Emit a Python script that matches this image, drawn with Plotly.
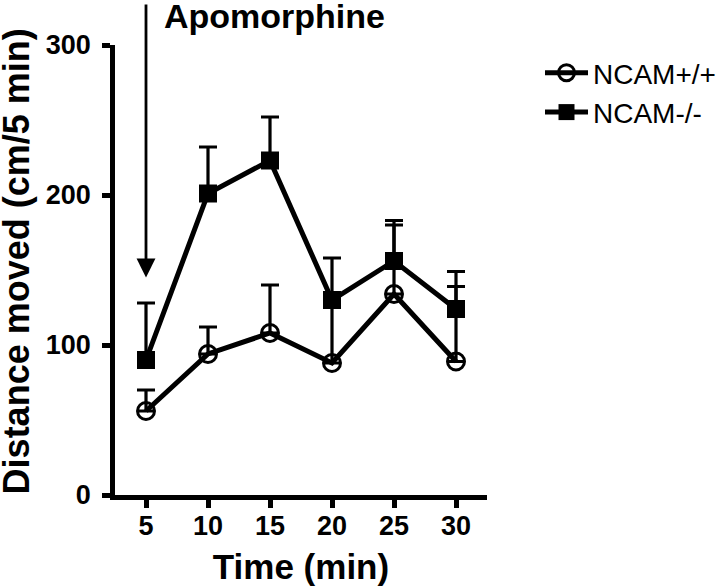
import plotly.graph_objects as go

# Data
time_min = [5, 10, 15, 20, 25, 30]
wt_mean = [56, 94, 108, 88, 134, 89]      # NCAM+/+
wt_err = [14, 18, 32, 40, 46, 50]
ko_mean = [90, 201, 223, 130, 156, 124]   # NCAM-/-
ko_err = [38, 31, 29, 28, 27, 25]
x_ticks = [5, 10, 15, 20, 25, 30]
y_ticks = [0, 100, 200, 300]
series_names = ["NCAM+/+", "NCAM-/-"]
arrow_label = "Apomorphine"
arrow_time = 5
arrow_tip = 145
arrow_start = 328

FONT = "Arial, Liberation Sans, sans-serif"
PLOT_L, PLOT_R, PLOT_T, PLOT_B = 114.5, 487.0, 45.0, 495.5


def px_to_paper_x(px):
    return (px - PLOT_L) / (PLOT_R - PLOT_L)


def px_to_paper_y(py):
    return (PLOT_B - py) / (PLOT_B - PLOT_T)


fig = go.Figure()
fig.add_trace(go.Scatter(
    x=time_min, y=wt_mean, name=series_names[0], mode="lines+markers",
    line=dict(color="black", width=5),
    marker=dict(symbol="circle-open", size=17, color="black", line=dict(width=3, color="black")),
    error_y=dict(type="data", array=wt_err, arrayminus=[0] * len(wt_err), symmetric=False,
                 color="black", thickness=3.2, width=9),
))
fig.add_trace(go.Scatter(
    x=time_min, y=ko_mean, name=series_names[1], mode="lines+markers",
    line=dict(color="black", width=5),
    marker=dict(symbol="square", size=18, color="black"),
    error_y=dict(type="data", array=ko_err, arrayminus=[0] * len(ko_err), symmetric=False,
                 color="black", thickness=3.2, width=9),
))

fig.add_annotation(
    x=arrow_time, y=arrow_tip, ax=arrow_time, ay=arrow_start, xref="x", yref="y",
    axref="x", ayref="y", showarrow=True, arrowhead=2, arrowsize=1.35, arrowwidth=2.8,
    arrowcolor="black", text="",
)
fig.add_annotation(
    text="<b>" + arrow_label + "</b>", xref="paper", yref="paper",
    x=px_to_paper_x(162), y=px_to_paper_y(16), xanchor="left", yanchor="middle",
    showarrow=False, font=dict(family=FONT, size=34, color="black"),
)
fig.add_annotation(
    text="<b>Distance moved (cm/5 min)</b>", xref="paper", yref="paper",
    x=px_to_paper_x(16), y=px_to_paper_y(262), xanchor="center", yanchor="middle",
    textangle=-90, showarrow=False, font=dict(family=FONT, size=36, color="black"),
)

fig.update_layout(
    width=720, height=587,
    margin=dict(l=PLOT_L, r=720 - PLOT_R, t=PLOT_T, b=587 - PLOT_B),
    plot_bgcolor="white", paper_bgcolor="white",
    font=dict(family=FONT, color="black"),
    legend=dict(
        x=540 / 720, y=1 - 48 / 587, xref="container", yref="container",
        xanchor="left", yanchor="top", font=dict(family=FONT, size=28, color="black"),
        itemwidth=43, bgcolor="rgba(0,0,0,0)", tracegroupgap=0,
    ),
    xaxis=dict(
        range=[2.5, 32.5], tickvals=x_ticks, ticktext=[str(v) for v in x_ticks],
        showline=True, linecolor="black", linewidth=4.5, automargin=False,
        ticks="outside", ticklen=8, tickwidth=4.5, tickcolor="black",
        showgrid=False, zeroline=False, ticklabelstandoff=-5,
        tickfont=dict(family=FONT, size=27, color="black", weight="bold"),
        title=dict(text="<b>Time (min)</b>", font=dict(family=FONT, size=35, color="black"), standoff=16),
    ),
    yaxis=dict(
        range=[0, 300], tickvals=y_ticks, ticktext=[str(v) for v in y_ticks],
        showline=True, linecolor="black", linewidth=4.5, automargin=False,
        ticks="outside", ticklen=8, tickwidth=4.5, tickcolor="black",
        showgrid=False, zeroline=False, ticklabelstandoff=6,
        tickfont=dict(family=FONT, size=27, color="black", weight="bold"),
    ),
)

fig.write_html(
    "out.html",
    config={"displayModeBar": False},
    post_script="document.body.style.margin='0px';document.body.style.overflow='hidden';",
)
